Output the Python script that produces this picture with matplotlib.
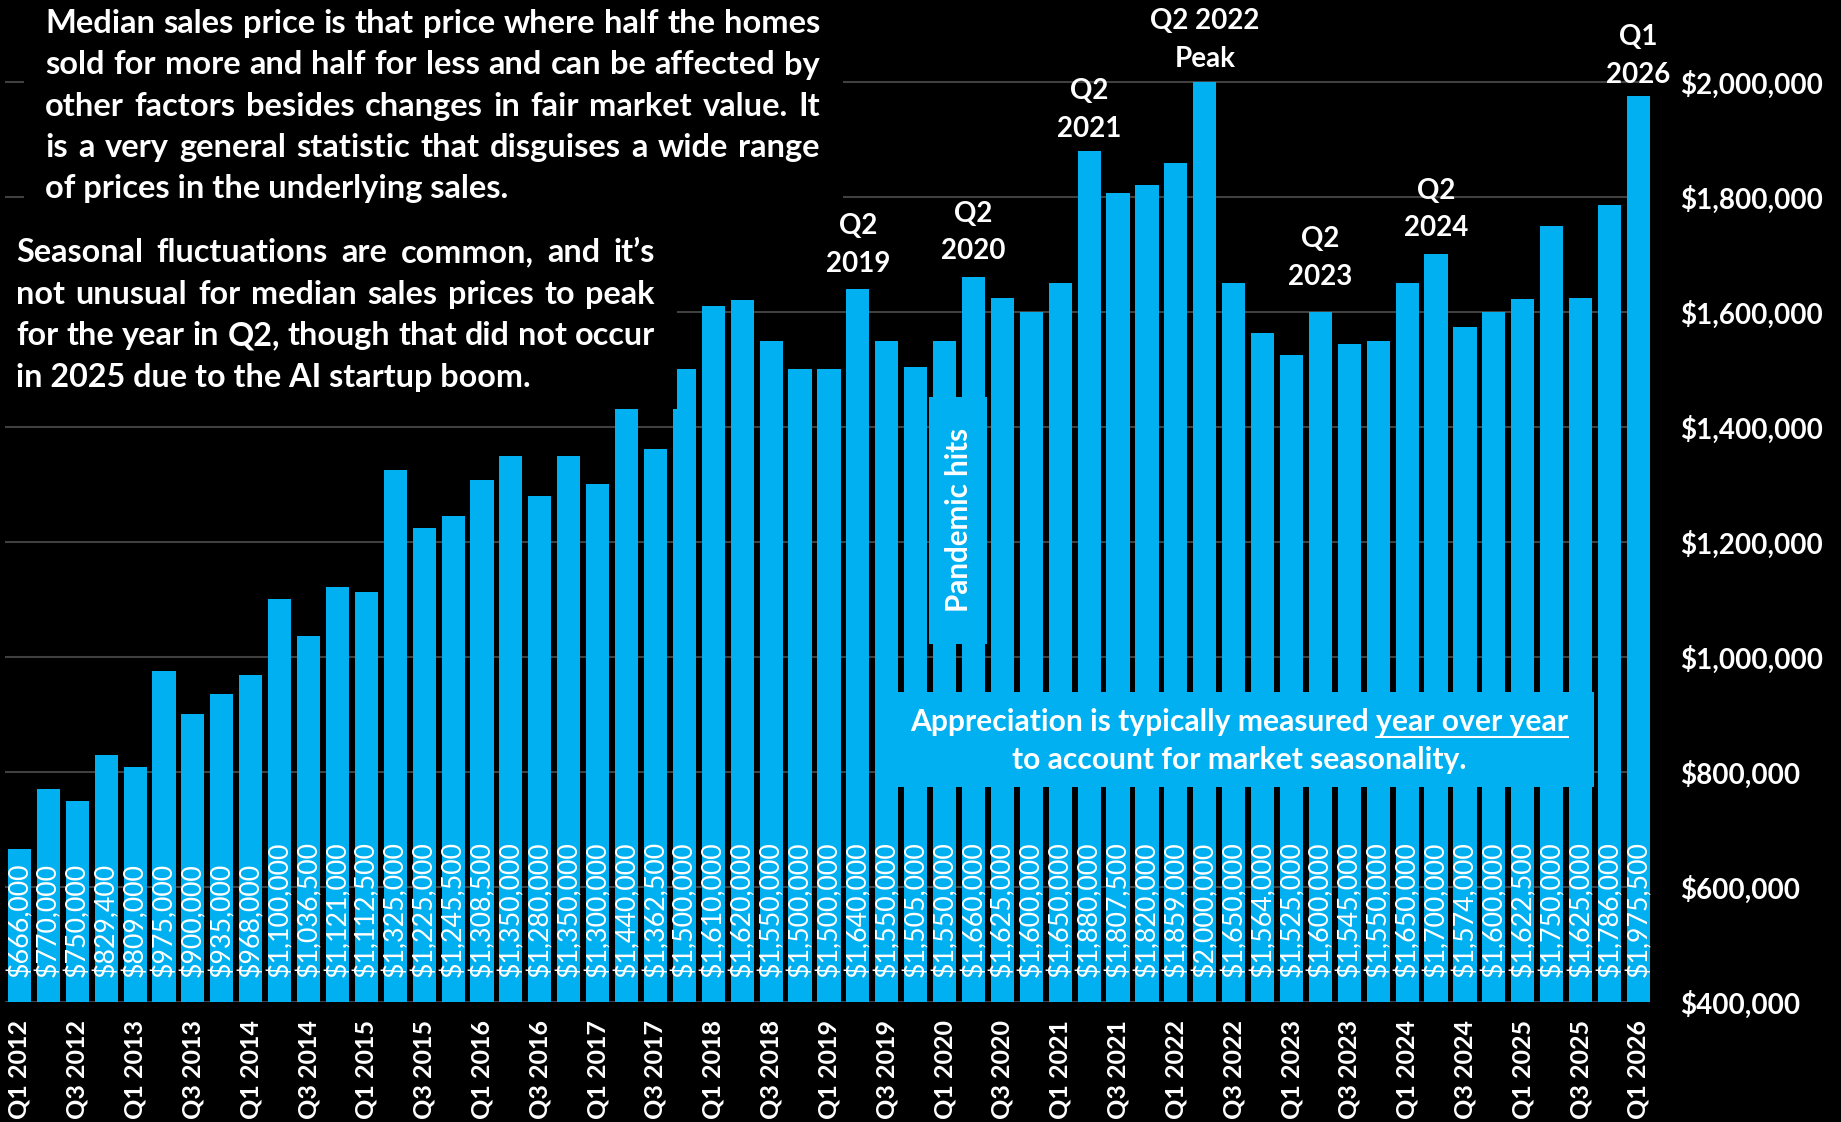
import matplotlib.pyplot as plt
from matplotlib.patches import Rectangle
from matplotlib.lines import Line2D

plt.rcParams['font.family'] = ['Lato', 'DejaVu Sans']

# quarterly median sales price, Q1 2012 .. Q1 2026
quarters = [f"Q{q} {y}" for y in range(2012, 2027) for q in range(1, 5)][:57]
prices = [666000, 770000, 750000, 829400, 809000, 975000, 900000, 935000,
          968000, 1100000, 1036500, 1121000, 1112500, 1325000, 1225000, 1245500,
          1308500, 1350000, 1280000, 1350000, 1300000, 1440000, 1362500, 1500000,
          1610000, 1620000, 1550000, 1500000, 1500000, 1640000, 1550000, 1505000,
          1550000, 1660000, 1625000, 1600000, 1650000, 1880000, 1807500, 1820000,
          1859000, 2000000, 1650000, 1564000, 1525000, 1600000, 1545000, 1550000,
          1650000, 1700000, 1574000, 1600000, 1622500, 1750000, 1625000, 1786000,
          1975500]

# callouts above bars
ann_index = [29, 33, 37, 41, 45, 49, 56]
ann_text = [["Q2", "2019"], ["Q2", "2020"], ["Q2", "2021"], ["Q2 2022", "Peak"],
            ["Q2", "2023"], ["Q2", "2024"], ["Q1", "2026"]]
ann_gap = [17, 18, 14, 15, 27, 18, 13]  # px from bar top to lower baseline

para1 = ["Median sales price is that price where half the homes",
         "sold for more and half for less and can be affected by",
         "other factors besides changes in fair market value. It",
         "is a very general statistic that disguises a wide range",
         "of prices in the underlying sales."]
para2 = ["Seasonal fluctuations are common, and it\u2019s",
         "not unusual for median sales prices to peak",
         "for the year in Q2, though that did not occur",
         "in 2025 due to the AI startup boom."]

BLUE = '#00B0F0'
W, H = 1841, 1122

fig = plt.figure(figsize=(W / 100, H / 100), dpi=100, facecolor='black')
ax = fig.add_axes([5 / W, 120 / H, 1645 / W, 1002 / H])
ax.set_facecolor('black')

ax.bar(range(len(prices)), prices, width=0.8, color=BLUE, zorder=2)
ax.set_xlim(-0.5, 56.4)
ax.set_ylim(400000, 2142600)

yt = list(range(400000, 2000001, 200000))
ax.set_yticks(yt)
ax.set_yticklabels([f"${v:,}" for v in yt], fontweight='bold')
ax.yaxis.tick_right()
ax.set_xticks(range(0, len(prices), 2))
ax.set_xticklabels(quarters[::2], rotation=90, fontweight='bold')
ax.tick_params(axis='y', length=0, pad=22, labelsize=20, labelcolor='white')
ax.tick_params(axis='x', length=0, pad=13, labelsize=18, labelcolor='white')
ax.grid(axis='y', color='#404040', lw=1.5)
ax.set_axisbelow(True)
for s in ax.spines.values():
    s.set_visible(False)

# values inside the bars
for i, v in enumerate(prices):
    ax.annotate(f"${v:,}", xy=(i, 400000), xytext=(0, 18), textcoords='offset points',
                rotation=90, ha='center', va='bottom', color='white', fontsize=19.3, zorder=5)

# callout labels
for idx, lines, gap in zip(ann_index, ann_text, ann_gap):
    n = len(lines)
    for k, t in enumerate(lines):
        off = (gap + (n - 1 - k) * 37.6) * 0.72
        ax.annotate(t, xy=(idx, prices[idx]), xytext=(0, off), textcoords='offset points',
                    ha='center', va='baseline', color='white', fontsize=20,
                    fontweight='bold', zorder=6)


def box(x0, y0, x1, y1, color):
    r = Rectangle((x0 / W, 1 - y1 / H), (x1 - x0) / W, (y1 - y0) / H,
                  transform=fig.transFigure, facecolor=color, edgecolor='none', zorder=3)
    ax.add_patch(r)


# black backing behind the notes, blue callout boxes
box(24, 0, 843, 208, 'black')
box(0, 225, 677, 409, 'black')
box(929, 397, 987, 644, BLUE)
box(878, 692, 1594, 787, BLUE)

renderer = fig.canvas.get_renderer()


def text_w(s, size):
    t = fig.text(0, 0, s, fontsize=size, fontweight='bold')
    w = t.get_window_extent(renderer=renderer).width
    t.remove()
    return w


def justified(lines, x0, x1, baselines, size):
    for k, (line, yb) in enumerate(zip(lines, baselines)):
        if k == len(lines) - 1:
            fig.text(x0 / W, 1 - yb / H, line, fontsize=size, fontweight='bold',
                     color='white', va='baseline', ha='left')
            continue
        words = line.split()
        widths = [text_w(w, size) for w in words]
        gap = (x1 - x0 - sum(widths)) / (len(words) - 1)
        x = x0
        for w, wd in zip(words, widths):
            fig.text(x / W, 1 - yb / H, w, fontsize=size, fontweight='bold',
                     color='white', va='baseline', ha='left')
            x += wd + gap


justified(para1, 45, 820, [33, 74.5, 116, 157, 198], 23.5)
justified(para2, 16, 655, [262, 303.7, 345.3, 387], 23.3)

fig.text(959 / W, 1 - 520 / H, "Pandemic hits", rotation=90, ha='center', va='center',
         color='white', fontsize=21.3, fontweight='bold')

l1 = "Appreciation is typically measured year over year"
l2 = "to account for market seasonality."
cx = 1239
fig.text(cx / W, 1 - 731 / H, l1, ha='center', va='baseline', color='white',
         fontsize=21.6, fontweight='bold')
fig.text(cx / W, 1 - 769 / H, l2, ha='center', va='baseline', color='white',
         fontsize=21.6, fontweight='bold')
full = text_w(l1, 21.6)
part = text_w("year over year", 21.6)
xr = cx + full / 2
fig.add_artist(Line2D([(xr - part) / W, xr / W], [1 - 737 / H, 1 - 737 / H],
                      transform=fig.transFigure, color='white', lw=1.5))

fig.savefig('out.png', dpi=100, facecolor='black')
